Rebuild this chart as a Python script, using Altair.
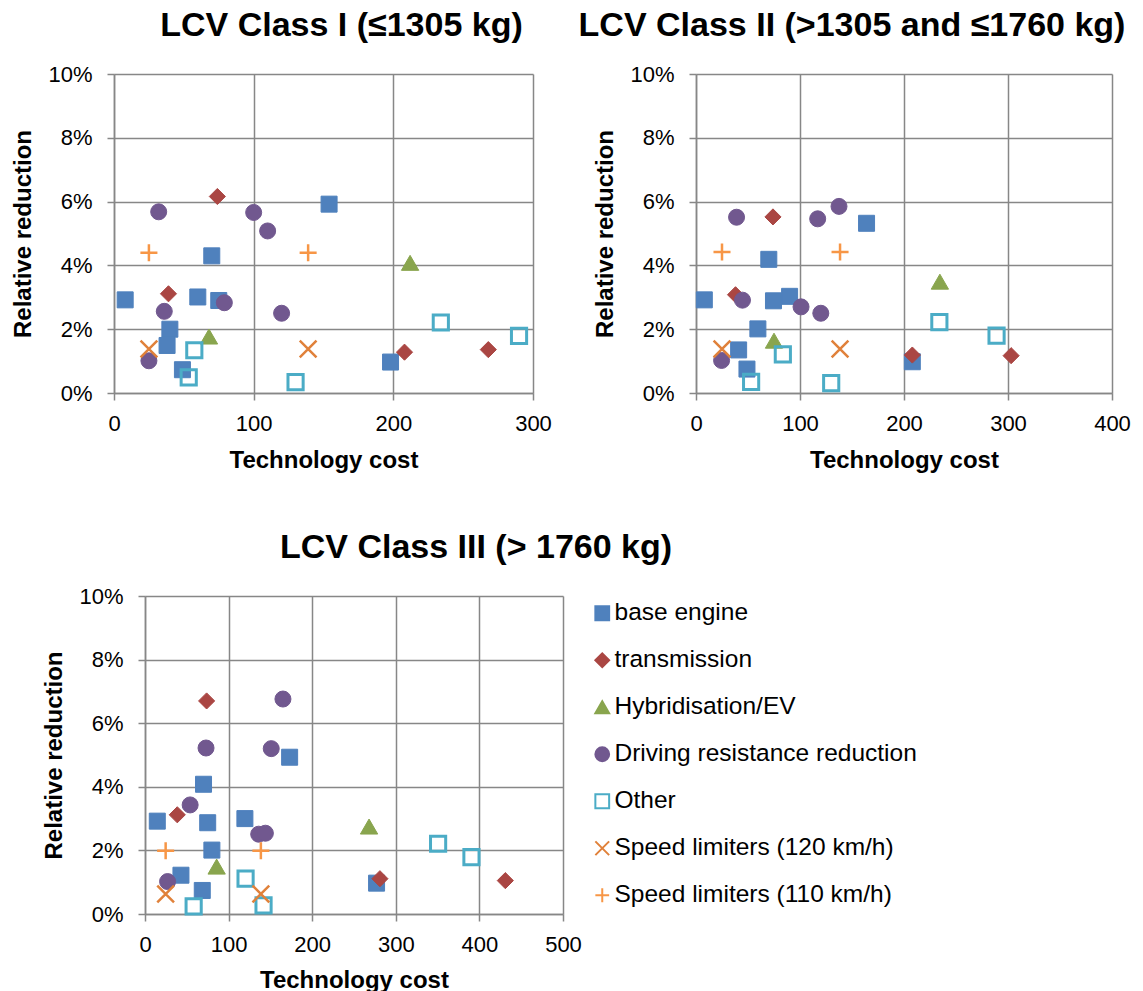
import altair as alt
import pandas as pd

SERIES = [
    "base engine",
    "transmission",
    "Hybridisation/EV",
    "Driving resistance reduction",
    "Other",
    "Speed limiters (120 km/h)",
    "Speed limiters (110 km/h)",
]

# Technology cost and relative reduction (%) per measure group, LCV Class I
CLASS_I_COST = {
    "base engine": [8, 70, 154, 60, 75, 40, 38, 49, 198],
    "transmission": [74, 39, 208, 268],
    "Hybridisation/EV": [212, 68],
    "Driving resistance reduction": [32, 100, 110, 36, 79, 120, 25],
    "Other": [234, 290, 57.5, 53.5, 130],
    "Speed limiters (120 km/h)": [25, 139],
    "Speed limiters (110 km/h)": [25, 139],
}
CLASS_I_REDUCTION = {
    "base engine": [2.92, 4.30, 5.92, 3.01, 2.90, 2.00, 1.49, 0.73, 0.97],
    "transmission": [6.16, 3.11, 1.28, 1.36],
    "Hybridisation/EV": [4.08, 1.77],
    "Driving resistance reduction": [5.68, 5.66, 5.08, 2.56, 2.83, 2.50, 1.01],
    "Other": [2.21, 1.79, 1.34, 0.49, 0.34],
    "Speed limiters (120 km/h)": [1.38, 1.38],
    "Speed limiters (110 km/h)": [4.40, 4.40],
}

# LCV Class II
CLASS_II_COST = {
    "base engine": [8, 70, 164, 74.5, 90, 59.5, 41, 49, 208],
    "transmission": [38, 74, 208, 303],
    "Hybridisation/EV": [234.5, 75],
    "Driving resistance reduction": [39, 117, 137.5, 44.7, 101, 120, 24.6],
    "Other": [234, 289, 83.5, 53, 130],
    "Speed limiters (120 km/h)": [25, 138.5],
    "Speed limiters (110 km/h)": [25, 138.5],
}
CLASS_II_REDUCTION = {
    "base engine": [2.92, 4.19, 5.32, 2.89, 3.03, 2.01, 1.35, 0.75, 0.98],
    "transmission": [3.08, 5.52, 1.19, 1.17],
    "Hybridisation/EV": [3.49, 1.64],
    "Driving resistance reduction": [5.51, 5.46, 5.85, 2.91, 2.70, 2.50, 1.02],
    "Other": [2.22, 1.80, 1.21, 0.35, 0.31],
    "Speed limiters (120 km/h)": [1.38, 1.38],
    "Speed limiters (110 km/h)": [4.42, 4.42],
}

# LCV Class III
CLASS_III_COST = {
    "base engine": [14.7, 70, 173, 75, 119.5, 80, 43, 68.5, 277],
    "transmission": [73.7, 38.6, 281, 431],
    "Hybridisation/EV": [268, 85.7],
    "Driving resistance reduction": [165, 73, 151, 54, 136, 144, 27],
    "Other": [350.6, 390.5, 120.3, 58.2, 141.8],
    "Speed limiters (120 km/h)": [24.7, 138.6],
    "Speed limiters (110 km/h)": [24.7, 138.6],
}
CLASS_III_REDUCTION = {
    "base engine": [2.92, 4.08, 4.93, 2.87, 3.00, 2.01, 1.22, 0.74, 0.97],
    "transmission": [6.70, 3.12, 1.11, 1.05],
    "Hybridisation/EV": [2.75, 1.49],
    "Driving resistance reduction": [6.76, 5.22, 5.20, 3.43, 2.51, 2.54, 1.02],
    "Other": [2.21, 1.79, 1.11, 0.24, 0.27],
    "Speed limiters (120 km/h)": [0.63, 0.63],
    "Speed limiters (110 km/h)": [1.99, 1.99],
}

FONT = "Liberation Sans"
GRID = "#878787"

# Marker style for each series (same order as SERIES)
SHAPES = [
    "square",
    "diamond",
    "triangle-up",
    "circle",
    "square",
    "M-1,-1L1,1M-1,1L1,-1",
    "M0,-1L0,1M-1,0L1,0",
]
FILLS = ["#4F81BD", "#AA4643", "#89A54E", "#71588F", "transparent", "transparent", "transparent"]
STROKES = ["#4F81BD", "#AA4643", "#89A54E", "#71588F", "#4BACC6", "#E0813A", "#F79646"]
MARKER_SIZE = dict(zip(SERIES, [256, 260, 300, 256, 230, 280, 290]))
MARKER_STROKE = dict(zip(SERIES, [1, 1, 1, 1, 3, 2.5, 2.5]))


def to_frame(costs, reductions):
    rows = []
    for s in SERIES:
        for c, r in zip(costs[s], reductions[s]):
            rows.append({"series": s, "cost": c, "reduction": r})
    df = pd.DataFrame(rows)
    df["msize"] = df["series"].map(MARKER_SIZE)
    df["mstroke"] = df["series"].map(MARKER_STROKE)
    return df


# One shared legend, placed relative to the top-left panel's plot origin
series_legend = alt.Legend(
    title=None,
    orient="none",
    legendX=476,
    legendY=527,
    direction="vertical",
    labelFont=FONT,
    labelFontSize=24.5,
    labelColor="black",
    labelOffset=0,
    symbolSize=190,
    symbolStrokeWidth=2,
    rowPadding=22,
    padding=0,
    labelLimit=400,
)


def panel(df, xmax, width, height, title, title_dx, x_title_y=74):
    return (
        alt.Chart(
            df,
            title=alt.Title(
                title,
                font=FONT,
                fontSize=34,
                fontWeight="bold",
                color="black",
                anchor="middle",
                frame="group",
                baseline="alphabetic",
                dx=title_dx,
                dy=7,
                offset=0,
            ),
        )
        .mark_point(opacity=1)
        .encode(
            x=alt.X(
                "cost:Q",
                scale=alt.Scale(domain=[0, xmax], nice=False, zero=True),
                axis=alt.Axis(
                    values=list(range(0, xmax + 1, 100)),
                    title="Technology cost",
                    titleX=width / 2,
                    titleY=x_title_y,
                    titleBaseline="alphabetic",
                    labelPadding=13,
                ),
            ),
            y=alt.Y(
                "reduction:Q",
                scale=alt.Scale(domain=[0, 10], nice=False),
                axis=alt.Axis(
                    values=[0, 2, 4, 6, 8, 10],
                    labelExpr="datum.value + '%'",
                    title="Relative reduction",
                    titleX=-84,
                    titleY=height / 2,
                    titleBaseline="alphabetic",
                    titleAlign="center",
                    labelPadding=15,
                ),
            ),
            shape=alt.Shape("series:N", scale=alt.Scale(domain=SERIES, range=SHAPES), legend=series_legend),
            fill=alt.Fill("series:N", scale=alt.Scale(domain=SERIES, range=FILLS), legend=series_legend),
            stroke=alt.Stroke("series:N", scale=alt.Scale(domain=SERIES, range=STROKES), legend=series_legend),
            size=alt.Size("msize:Q", scale=None),
            strokeWidth=alt.StrokeWidth("mstroke:Q", scale=None),
        )
        .properties(width=width, height=height)
    )


def spacer(width, height):
    return (
        alt.Chart(pd.DataFrame({"v": [0]}))
        .mark_point(opacity=0)
        .encode(x=alt.X("v:Q", axis=None), y=alt.Y("v:Q", axis=None))
        .properties(width=width, height=height)
    )


p1 = panel(to_frame(CLASS_I_COST, CLASS_I_REDUCTION), 300, 419, 319,
           "LCV Class I (\u22641305 kg)", 18)
p2 = panel(to_frame(CLASS_II_COST, CLASS_II_REDUCTION), 400, 416, 319,
           "LCV Class II (>1305 and \u22641760 kg)", -52)
p3 = panel(to_frame(CLASS_III_COST, CLASS_III_REDUCTION), 500, 418, 318,
           "LCV Class III (> 1760 kg)", 122, x_title_y=73)

# Flush bounds: rows are placed by plot areas only; the nested rows carry no
# size of their own, so the row spacing covers the top plot height too.
top = alt.hconcat(p1, p2, spacing=163, bounds="flush")
bottom = alt.hconcat(spacer(31, 318), p3, spacing=0, bounds="flush")

chart = (
    alt.vconcat(top, bottom, spacing=522, bounds="flush")
    .properties(padding={"left": 11, "top": 9, "right": 0, "bottom": 0}, background="white")
    .configure_view(stroke=None)
    .configure_axis(
        labelFont=FONT,
        labelFontSize=22,
        labelColor="black",
        labelFlush=False,
        labelOverlap=False,
        titleFont=FONT,
        titleFontSize=24,
        titleFontWeight="bold",
        titleColor="black",
        gridColor=GRID,
        gridWidth=1.5,
        gridOpacity=1,
        domainColor=GRID,
        domainWidth=1.5,
        tickColor=GRID,
        tickWidth=1.5,
        tickSize=7,
    )
)

chart.save("out.html", embed_options={"renderer": "svg", "actions": False})
